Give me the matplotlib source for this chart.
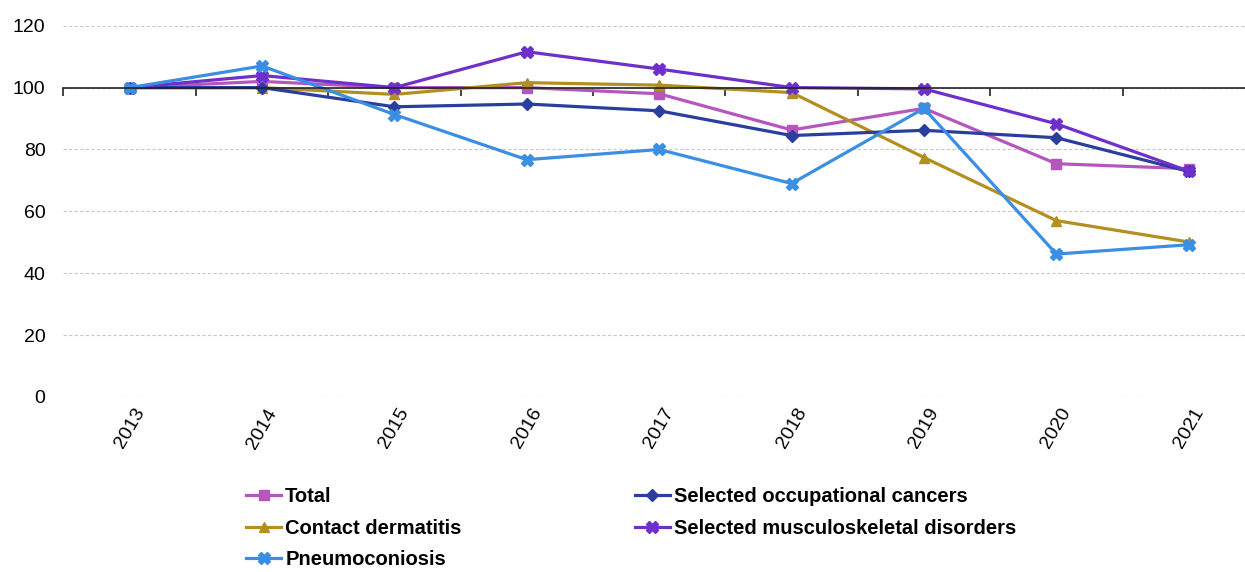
import numpy as np
import matplotlib.pyplot as plt

plt.rcParams['font.family'] = ['Liberation Sans', 'DejaVu Sans']

years = ['2013', '2014', '2015', '2016', '2017', '2018', '2019', '2020', '2021']
total = [100, 102, 100, 100, 98, 86.3, 93.3, 75.4, 73.8]
cancers = [100, 100, 93.8, 94.7, 92.5, 84.5, 86.2, 83.8, 72.9]
dermatitis = [100, 100, 97.8, 101.6, 100.8, 98.4, 77.4, 57, 50.1]
musculo = [100, 103.9, 100, 111.6, 106, 100, 99.6, 88.3, 73]
pneumo = [100, 107, 91.3, 76.7, 80, 69, 93.3, 46.2, 49.2]

fig = plt.figure(figsize=(12.45, 5.72), dpi=100)
ax = fig.add_axes([0.051, 0.306, 0.957, 0.649])
x = np.arange(len(years))

lw = 2.3
l_total, = ax.plot(x, total, color='#B556BF', lw=lw, marker='s', ms=7, label='Total')
l_derm, = ax.plot(x, dermatitis, color='#B38F1F', lw=lw, marker='^', ms=7, label='Contact dermatitis')
l_canc, = ax.plot(x, cancers, color='#2A3E9E', lw=lw, marker='D', ms=6, label='Selected occupational cancers')
l_musc, = ax.plot(x, musculo, color='#6E2FCB', lw=lw, marker='X', ms=8, label='Selected musculoskeletal disorders')
l_pneu, = ax.plot(x, pneumo, color='#3A8EE3', lw=lw, marker='X', ms=8, label='Pneumoconiosis')

ax.set_xlim(-0.5, len(years) - 0.5)
ax.set_ylim(0, 120)
ax.set_yticks(np.arange(0, 121, 20))
ax.yaxis.grid(True, linestyle=(0, (3, 2)), color='#c8c8c8', lw=0.8)
ax.set_axisbelow(True)

for s in ['left', 'right', 'bottom']:
    ax.spines[s].set_visible(False)
# axis line drawn at 100 with category boundary ticks
ax.spines['top'].set_position(('data', 100))
ax.spines['top'].set_color('#222222')
ax.spines['top'].set_linewidth(1.2)
ax.xaxis.set_ticks_position('both')
ax.set_xticks(x)
ax.set_xticklabels(years, rotation=60, fontsize=14)
ax.set_xticks(np.arange(-0.5, len(years), 1), minor=True)
ax.tick_params(axis='x', which='major', length=0, pad=6, top=False)
ax.tick_params(axis='x', which='minor', bottom=False, top=True, direction='in', length=6, width=1.2, color='#222222')
ax.tick_params(axis='y', length=0, labelsize=14, pad=13)

handles = [l_total, l_derm, l_pneu, l_canc, l_musc]
fig.legend(handles=handles, labels=[h.get_label() for h in handles], ncol=2,
           loc='upper left', bbox_to_anchor=(0.183, 0.18), frameon=False,
           prop={'weight': 'bold', 'size': 14.5}, handlelength=1.75, handletextpad=0.2,
           columnspacing=8.6, labelspacing=0.62)

fig.savefig('out.png', dpi=100)
